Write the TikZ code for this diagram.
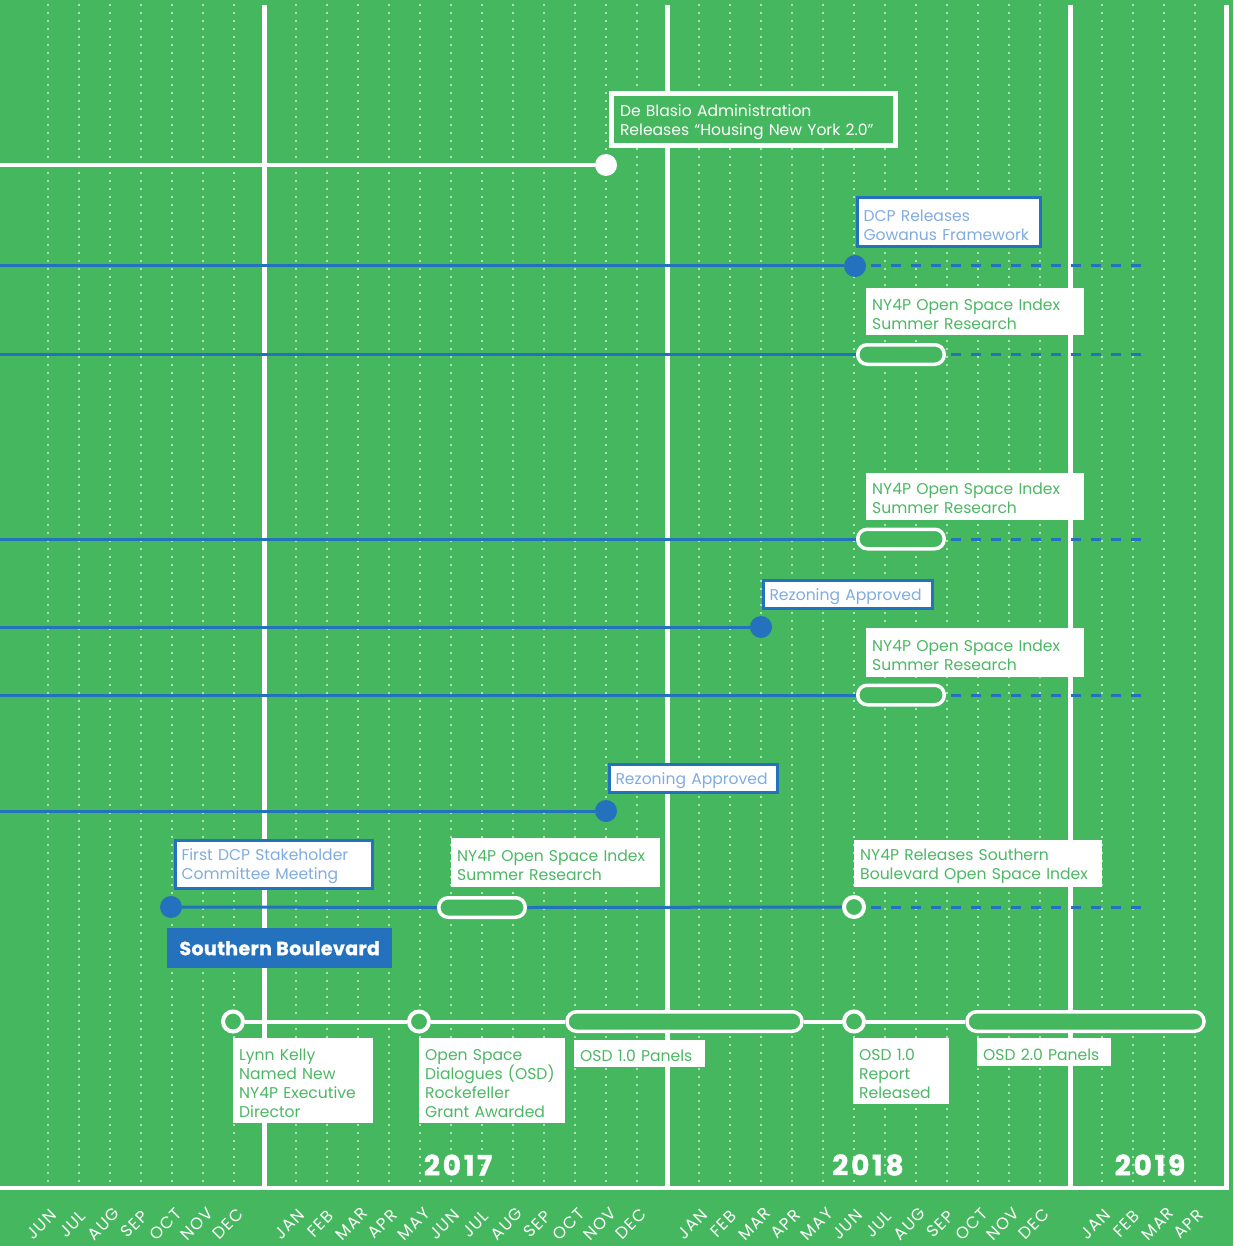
\documentclass[tikz,border=0pt]{standalone}
\usepackage{fontspec}
\setmainfont{Poppins}
\newfontfamily\monthfont[LetterSpace=8]{Poppins}
\newfontfamily\yearfont[LetterSpace=10,FakeBold=1.5]{Poppins}
\newfontfamily\sbfont[LetterSpace=2,FakeBold=1]{Poppins}
\definecolor{bg}{RGB}{69,183,94}
\definecolor{nyblue}{RGB}{36,113,190}
\definecolor{ltblue}{RGB}{128,172,224}
\definecolor{txtgreen}{RGB}{76,183,100}
\definecolor{dotcol}{RGB}{176,224,184}
\pgfdeclarelayer{grid}
\pgfdeclarelayer{conn}
\pgfsetlayers{grid,conn,main}
\begin{document}
\begin{tikzpicture}[x=1pt,y=-1pt,
  lbl/.style={anchor=north west, align=left, inner ysep=0pt, inner xsep=6pt, font=\fontsize{15.6}{19}\selectfont, execute at begin node={\rule{0pt}{16.5pt}}},
  gbox/.style={lbl, fill=white, text=txtgreen},
  bbox/.style={lbl, fill=white, draw=nyblue, line width=3pt, text=ltblue, inner xsep=6.5pt},
  wbox/.style={lbl, fill=bg, draw=white, line width=5pt, text=white, inner xsep=9pt},
  wdot/.style={circle, fill=white, minimum size=22pt, inner sep=0pt},
  bdot/.style={circle, fill=nyblue, minimum size=22pt, inner sep=0pt},
  ring/.style={circle, draw=white, fill=bg, line width=4pt, minimum size=20pt, inner sep=0pt},
  capsule/.style={rectangle, rounded corners=9.5pt, draw=white, fill=bg, line width=3.5pt, minimum height=19.5pt, inner sep=0pt},
  wline/.style={draw=white, line width=4pt},
  bline/.style={draw=nyblue, line width=3pt},
  dline/.style={draw=nyblue, line width=3pt, dash pattern=on 10pt off 10pt, dash phase=15pt},
  yline/.style={draw=white, line width=5pt},
  dotline/.style={draw=dotcol, line width=2pt, dash pattern=on 2pt off 6pt},
  month/.style={text=white, rotate=45, inner sep=0pt, font=\monthfont\fontsize{16.5}{17}\selectfont},
  year/.style={text=white, inner sep=0pt, font=\yearfont\bfseries\fontsize{28}{28}\selectfont},
  sbbox/.style={fill=nyblue, text=white, inner sep=0pt, minimum width=225pt, minimum height=40pt, anchor=north west, font=\sbfont\bfseries\fontsize{19}{20}\selectfont}
]
\useasboundingbox (0,0) rectangle (1233,1246);
\begin{pgfonlayer}{grid}
  \fill[bg] (0,0) rectangle (1233,1246);
  \foreach \k in {0,...,6} {\draw[dotline] (47.5+31*\k,3.7) -- (47.5+31*\k,1184);}
  \foreach \k in {8,...,19} {\draw[dotline] (47.5+31*\k,3.7) -- (47.5+31*\k,1184);}
  \foreach \k in {21,...,32} {\draw[dotline] (47.5+31*\k,3.7) -- (47.5+31*\k,1184);}
  \foreach \k in {34,...,37} {\draw[dotline] (47.5+31*\k,3.7) -- (47.5+31*\k,1184);}
  \draw[yline] (264.5,5) -- (264.5,1188);
  \draw[yline] (667.5,5) -- (667.5,1188);
  \draw[yline] (1070.5,5) -- (1070.5,1188);
  \draw[yline] (1226,5) -- (1226,1190);
  \draw[white, line width=4pt] (0,1188) -- (1228.5,1188);
\end{pgfonlayer}

% month labels
\foreach \k/\m in {0/JUN,1/JUL,2/AUG,3/SEP,4/OCT,5/NOV,6/DEC,
  8/JAN,9/FEB,10/MAR,11/APR,12/MAY,13/JUN,14/JUL,15/AUG,16/SEP,17/OCT,18/NOV,19/DEC,
  21/JAN,22/FEB,23/MAR,24/APR,25/MAY,26/JUN,27/JUL,28/AUG,29/SEP,30/OCT,31/NOV,32/DEC,
  34/JAN,35/FEB,36/MAR,37/APR}
  {\node[month] (m\k) at (41.5+31*\k,1224) {\m};}

\node[year] (y17) at (458,1165) {2017};
\node[year] (y18) at (868,1165) {2018};
\node[year] (y19) at (1150,1165) {2019};

% row 1
\coordinate (r1s) at (0,165);
\node[wdot] (r1d) at (606,165) {};
\node[wbox, text width=266pt, minimum height=52pt] (r1b) at (608.5,91.5) {De Blasio Administration\\Releases “Housing New York 2.0”};

% row 2
\coordinate (r2s) at (0,266);
\coordinate (r2e) at (1150,266);
\node[bdot] (r2d) at (855,266) {};
\node[bbox, text width=170pt, minimum height=49pt] (r2b) at (855.5,196.5) {DCP Releases\\Gowanus Framework};

% row 3
\coordinate (r3s) at (0,354.5);
\coordinate (r3e) at (1150,354.5);
\node[capsule, minimum width=86.5pt] (r3c) at (901,354.5) {};
\node[gbox, text width=206pt, minimum height=47pt] (r3b) at (866,288) {NY4P Open Space Index\\Summer Research};

% row 4
\coordinate (r4s) at (0,539);
\coordinate (r4e) at (1150,539);
\node[capsule, minimum width=86.5pt] (r4c) at (901,539) {};
\node[gbox, text width=206pt, minimum height=47pt] (r4b) at (866,472.5) {NY4P Open Space Index\\Summer Research};

% row 5
\coordinate (r5s) at (0,627);
\node[bdot] (r5d) at (761,627) {};
\node[bbox, text width=156pt, minimum height=28pt] (r5b) at (761.5,578.5) {Rezoning Approved};

% row 6
\coordinate (r6s) at (0,695);
\coordinate (r6e) at (1150,695);
\node[capsule, minimum width=86.5pt] (r6c) at (901,695) {};
\node[gbox, text width=206pt, minimum height=49pt] (r6b) at (866,628) {NY4P Open Space Index\\Summer Research};

% row 7
\coordinate (r7s) at (0,811);
\node[bdot] (r7d) at (606,811) {};
\node[bbox, text width=155pt, minimum height=28pt] (r7b) at (607.5,762.5) {Rezoning Approved};

% row 8
\coordinate (r8e) at (1150,907);
\node[bdot] (r8d) at (171,907) {};
\node[capsule, minimum width=86.5pt] (r8c) at (482,907.5) {};
\node[ring] (r8r) at (854,907) {};
\node[bbox, text width=184pt, minimum height=48pt] (r8b1) at (173.5,838.5) {First DCP Stakeholder\\Committee Meeting};
\node[gbox, text width=197pt, minimum height=49pt] (r8b2) at (451,838) {NY4P Open Space Index\\Summer Research};
\node[gbox, text width=236pt, minimum height=47pt] (r8b3) at (854,840) {NY4P Releases Southern\\Boulevard Open Space Index};
\node[sbbox] (sb) at (167,928) {Southern Boulevard};

% row 9
\node[ring] (r9a) at (233,1021.5) {};
\node[ring] (r9b) at (419,1021.5) {};
\node[capsule, minimum width=235pt] (r9c) at (684.5,1021.5) {};
\node[ring] (r9d) at (854,1021.5) {};
\node[capsule, minimum width=237pt] (r9e) at (1085.5,1021.5) {};
\node[gbox, text width=128pt, minimum height=85pt] (r9b1) at (233,1038) {Lynn Kelly\\Named New\\NY4P Executive\\Director};
\node[gbox, text width=134pt, minimum height=85pt] (r9b2) at (419,1038) {Open Space\\Dialogues (OSD)\\Rockefeller\\Grant Awarded};
\node[gbox, text width=119pt, minimum height=27pt] (r9b3) at (574,1040) {OSD 1.0 Panels};
\node[gbox, text width=84pt, minimum height=66pt] (r9b4) at (853,1038) {OSD 1.0\\Report\\Released};
\node[gbox, text width=122pt, minimum height=28pt] (r9b5) at (977,1038) {OSD 2.0 Panels};

\begin{pgfonlayer}{conn}
  \draw[wline] (r1s) -- (r1d);
  \draw[bline] (r2s) -- (r2d);
  \draw[dline] (r2d.east) -- (r2e);
  \draw[bline] (r3s) -- (r3c.west);
  \draw[dline] (r3c.east) -- (r3e);
  \draw[bline] (r4s) -- (r4c.west);
  \draw[dline] (r4c.east) -- (r4e);
  \draw[bline] (r5s) -- (r5d);
  \draw[bline] (r6s) -- (r6c.west);
  \draw[dline] (r6c.east) -- (r6e);
  \draw[bline] (r7s) -- (r7d);
  \draw[bline] (r8d) -- (r8c.west);
  \draw[bline] (r8c.east) -- (r8r.west);
  \draw[dline] (r8r.east) -- (r8e);
  \draw[wline] (r9a) -- (r9b);
  \draw[wline] (r9b) -- (r9c.west);
  \draw[wline] (r9c.east) -- (r9d);
  \draw[wline] (r9d) -- (r9e.west);
\end{pgfonlayer}
\end{tikzpicture}
\end{document}
